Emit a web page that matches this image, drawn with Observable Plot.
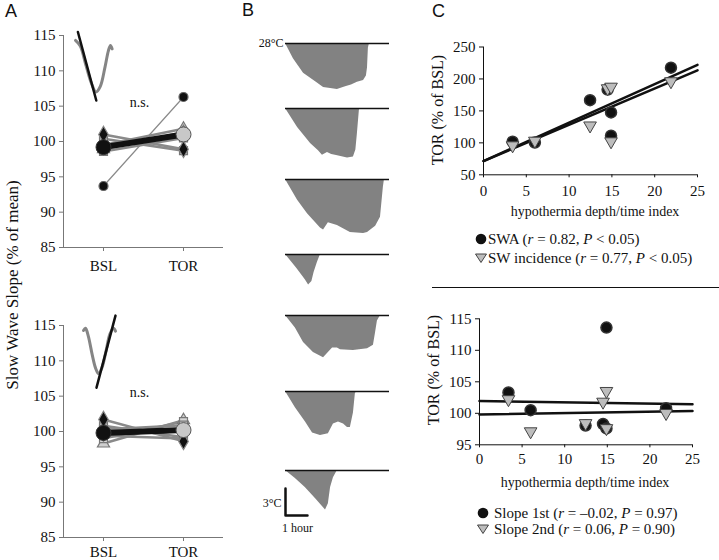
<!DOCTYPE html>
<html><head><meta charset="utf-8">
<script src="https://cdn.jsdelivr.net/npm/d3@7"></script>
<script src="https://cdn.jsdelivr.net/npm/@observablehq/plot@0.6"></script>
<style>
body{margin:0;background:#fff;}
#fig{position:relative;width:719px;height:560px;overflow:hidden;background:#fff;font-family:"Liberation Serif",serif;color:#111;}
#fig svg{overflow:visible;max-width:none;}
</style></head>
<body><div id="fig"></div>
<script>
// ---------------- DATA ----------------
// Panel A
const stages = ["BSL", "TOR"];
const stageX = [0, 1];
const yTicksA = [85, 90, 95, 100, 105, 110, 115];
// top: individual animals (BSL, TOR)
const a1Circle = [93.7, 106.3];
const a1Diamond = [101.0, 98.9];
const a1Triangle = [99.5, 101.8];
const a1Square1 = [98.6, 100.5];
const a1Square2 = [100.4, 98.7];
const a1Triangle2 = [98.9, 101.3];
const a1Mean = [99.2, 101.0];
// top inset waveform (gray) and slope (black)
const a1WaveX = [-0.35, -0.29, -0.22, -0.15, -0.094, -0.04, 0.02, 0.06, 0.087, 0.108];
const a1WaveY = [114.3, 113.5, 110.8, 108.2, 107.0, 107.8, 110.6, 112.8, 113.6, 113.1];
const a1SlopeX = [-0.32, -0.09];
const a1SlopeY = [115.5, 105.8];
// bottom
const a2Diamond = [101.7, 98.6];
const a2Triangle = [98.3, 101.6];
const a2Square1 = [99.0, 101.4];
const a2Square2 = [100.8, 99.2];
const a2Square3 = [100.3, 100.9];
const a2Triangle2 = [99.4, 99.0];
const a2Mean = [99.8, 100.2];
const a2WaveX = [-0.25, -0.225, -0.19, -0.14, -0.1, -0.0625, -0.02, 0.03, 0.08, 0.125, 0.15];
const a2WaveY = [114.3, 114.6, 113.5, 110.8, 109.0, 108.2, 109.0, 111.3, 113.8, 114.6, 114.2];
const a2SlopeX = [-0.0875, 0.15];
const a2SlopeY = [106.2, 116.4];
const nsLabel = "n.s.";
const nsX = 0.45;
const nsY = 105.5;

// Panel B: hypothermia bouts (time in hours, depth below 28 °C in °C)
const traceTimes = [
  [0, 0.36, 0.82, 1.45, 1.73, 2.05, 2.36, 2.73, 3.0, 3.27, 3.55, 3.68, 3.73, 3.77, 3.82],
  [0, 0.55, 1.14, 1.5, 1.68, 1.91, 2.1, 2.27, 2.82, 3.09, 3.2, 3.27, 3.36, 3.4],
  [0, 0.55, 1.0, 1.59, 1.73, 1.95, 2.36, 2.95, 3.55, 3.73, 4.1, 4.32, 4.45, 4.5],
  [0, 0.5, 0.9, 1.05, 1.2, 1.3, 1.45, 1.59],
  [0, 0.45, 0.82, 1.27, 1.73, 1.95, 2.14, 2.36, 2.5, 3.09, 3.73, 4.0, 4.09, 4.18, 4.32],
  [0, 0.45, 0.91, 1.23, 1.59, 1.95, 2.18, 2.41, 2.64, 2.82, 2.95, 3.09, 3.18, 3.27],
  [0, 0.45, 0.9, 1.36, 1.82, 1.95, 2.05, 2.18, 2.36]
];
const traceDepths = [
  [0, -1.7, -3.3, -4.4, -4.9, -5.0, -5.1, -4.8, -4.6, -4.3, -4.1, -3.6, -2.7, -0.5, 0],
  [0, -2.1, -3.9, -4.7, -5.2, -4.9, -5.1, -5.2, -5.5, -5.4, -4.6, -2.8, -0.2, 0],
  [0, -2.3, -3.8, -5.4, -5.6, -4.8, -5.1, -5.9, -6.0, -5.9, -5.2, -4.2, -0.9, 0],
  [0, -1.5, -2.8, -3.4, -3.0, -2.0, -0.9, 0],
  [0, -1.4, -3.0, -4.1, -4.7, -4.1, -3.6, -3.6, -3.8, -3.9, -3.7, -3.3, -2.0, -0.6, 0],
  [0, -1.8, -3.4, -4.6, -4.9, -4.7, -3.6, -3.4, -3.6, -4.0, -4.0, -2.4, -0.2, 0],
  [0, -0.9, -1.9, -3.1, -4.4, -3.7, -1.9, -0.8, 0]
];
const traceTops = [38, 103, 174, 249, 310, 386, 465];
const refTempLabel = "28°C";
const scaleBarT = [0, 0, 1];
const scaleBarD = [-2, -5, -5];
const scaleTempLabel = "3°C";
const scaleTimeLabel = "1 hour";

// Panel C
const indexX = [3.4, 6.0, 12.45, 14.5, 14.9, 14.9, 21.9];
const swa = [101.9, 100.5, 166.8, 183.4, 147.6, 111.3, 217.7];
const swIncidence = [94.7, 102, 125.8, 184.0, 186.5, 101, 195];
const fitX = [0, 25];
const fitSWA = [71.5, 222];
const fitSWI = [71.5, 213.5];
const slope1st = [103.3, 100.5, 98.05, 98.3, 113.6, 97.6, 100.8];
const slope2nd = [102.1, 97.0, 98.3, 101.7, 103.4, 97.5, 99.9];
const fitSlope1 = [99.8, 100.35];
const fitSlope2 = [101.95, 101.45];
const xTicksC = [0, 5, 10, 15, 20, 25];
const yTicksCTop = [50, 100, 150, 200, 250];
const yTicksCBot = [95, 100, 105, 110, 115];

// ---------------- HELPERS ----------------
const fig = document.getElementById("fig");
const SERIF = '"Liberation Serif", "Times New Roman", serif';
const SANS = '"Liberation Sans", Arial, sans-serif';
function put(node, left, top, w, h) {
  const d = document.createElement("div");
  d.style.cssText = `position:absolute;left:${left}px;top:${top}px;width:${w}px;height:${h}px;`;
  d.appendChild(node); fig.appendChild(d); return d;
}
function label(html, x, y, size, opts = {}) {
  const d = document.createElement("div");
  d.innerHTML = html;
  const tx = opts.anchor === "start" ? "0" : "-50%";
  d.style.cssText = `position:absolute;left:${x}px;top:${y}px;font-size:${size}px;white-space:nowrap;line-height:1;` +
    `transform:translate(${tx},-50%)${opts.rotate ? " rotate(-90deg)" : ""};font-family:${opts.font || SERIF};color:#111;`;
  fig.appendChild(d); return d;
}
const triDown = {
  draw(ctx, size) {
    const r = Math.sqrt(size / Math.PI);
    const w = r * 1.15;
    ctx.moveTo(-w, -r * 0.8); ctx.lineTo(w, -r * 0.8); ctx.lineTo(0, r * 1.2); ctx.closePath();
  }
};
const zip = (xs, ys) => xs.map((x, i) => ({x, y: ys[i]}));
const style = {fontFamily: SERIF, fontSize: "15px", background: "transparent", color: "#111", overflow: "visible"};

// ---------------- PANEL A ----------------
function panelA(indiv, mean, waveX, waveY, slopeX, slopeY, xpad) {
  const marks = [
    Plot.ruleY([85], {stroke: "#777"}),
    Plot.ruleX([-0.5], {stroke: "#777"}),
    Plot.axisY({ticks: yTicksA, tickSize: 4, tickPadding: 4, label: null, stroke: "#777", fill: "#111"}),
    Plot.axisX({ticks: stageX, tickFormat: i => stages[i], tickSize: 4, tickPadding: xpad, label: null, stroke: "#777", fill: "#111"}),
    Plot.line(zip(waveX, waveY), {x: "x", y: "y", curve: "catmull-rom", stroke: "#858585", strokeWidth: 3}),
    Plot.line(zip(slopeX, slopeY), {x: "x", y: "y", stroke: "#111", strokeWidth: 2.5}),
    Plot.text([nsLabel], {x: nsX, y: nsY, text: d => d, fontSize: 14, fill: "#111"})
  ];
  for (const s of indiv) {
    marks.push(Plot.line(zip(stageX, s.v), {x: "x", y: "y", stroke: "#8a8a8a", strokeWidth: s.w}));
  }
  marks.push(Plot.line(zip(stageX, mean), {x: "x", y: "y", stroke: "#111", strokeWidth: 6}));
  for (const s of indiv) {
    marks.push(Plot.dot(zip(stageX, s.v), {x: "x", y: "y", symbol: s.sym, r: s.r, fill: s.fill, stroke: s.stroke, strokeWidth: 1.2}));
  }
  marks.push(Plot.dot(zip(stageX, mean), {x: "x", y: "y", r: 7.5, fill: (d, i) => i === 0 ? "#111" : "#c8c8c8", stroke: (d, i) => i === 0 ? "#333" : "#555", strokeWidth: 1}));
  return Plot.plot({
    width: 240, height: 280, marginLeft: 63, marginRight: 17, marginTop: 35, marginBottom: 33,
    x: {domain: [-0.5, 1.5]}, y: {domain: [85, 115]}, style, marks
  });
}
const sq = {sym: "square", r: 4.5, fill: "#d6d6d6", stroke: "#777", w: 2.5};
const tri = {sym: "triangle", r: 4.5, fill: "#cfcfcf", stroke: "#777", w: 2.5};
const dia = {sym: "diamond", r: 5, fill: "#111", stroke: "#888", w: 2.5};
const topIndiv = [
  {v: a1Circle, sym: "circle", r: 4.5, fill: "#111", stroke: "#666", w: 1.2},
  {v: a1Triangle, ...tri}, {v: a1Square1, ...sq}, {v: a1Square2, ...sq}, {v: a1Triangle2, ...tri},
  {v: a1Diamond, ...dia}
];
const botIndiv = [
  {v: a2Triangle, ...tri}, {v: a2Square1, ...sq}, {v: a2Square2, ...sq}, {v: a2Square3, ...sq},
  {v: a2Triangle2, ...dia, r: 3.5}, {v: a2Diamond, ...dia}
];
put(panelA(topIndiv, a1Mean, a1WaveX, a1WaveY, a1SlopeX, a1SlopeY, 9), 0, 0, 240, 280);
put(panelA(botIndiv, a2Mean, a2WaveX, a2WaveY, a2SlopeX, a2SlopeY, 5), 0, 290, 240, 270);
label("Slow Wave Slope (% of mean)", 12, 285, 17, {rotate: true});
label("A", 5, 11, 18, {anchor: "start", font: SANS});

// ---------------- PANEL B ----------------
traceTimes.forEach((ts, k) => {
  const data = zip(ts, traceDepths[k]);
  const marks = [
    Plot.areaY(data, {x: "x", y: "y", fill: "#828282"}),
    Plot.ruleY([0], {stroke: "#111", strokeWidth: 1.5})
  ];
  if (k === 0) {
    marks.push(Plot.text([refTempLabel], {x: 0, y: 0, text: d => d, textAnchor: "end", dx: -2, fontSize: 12, fill: "#111"}));
  }
  if (k === traceTimes.length - 1) {
    marks.push(Plot.line(zip(scaleBarT, scaleBarD), {x: "x", y: "y", stroke: "#111", strokeWidth: 2.5}));
    marks.push(Plot.text([scaleTempLabel], {x: 0, y: -3.65, text: d => d, textAnchor: "end", dx: -4, fontSize: 12, fill: "#111"}));
    marks.push(Plot.text([scaleTimeLabel], {x: 0.55, y: -6.4, text: d => d, fontSize: 12, fill: "#111"}));
  }
  const p = Plot.plot({
    width: 150, height: 70, marginLeft: 35, marginRight: 11, marginTop: 5, marginBottom: 2,
    x: {domain: [0, 4.73], axis: null}, y: {domain: [-7, 0], axis: null}, style, marks
  });
  put(p, 250, traceTops[k], 150, 70);
});
label("B", 242, 10, 18, {anchor: "start", font: SANS});

// ---------------- PANEL C ----------------
function panelC(opts) {
  return Plot.plot({
    width: 319, height: opts.height, marginLeft: opts.ml, marginRight: opts.mr, marginTop: opts.mt, marginBottom: opts.mb,
    x: {domain: [0, 25]}, y: {domain: opts.yDomain}, style,
    marks: [
      Plot.ruleY([opts.yDomain[0]], {stroke: "#111"}),
      Plot.ruleX([0], {stroke: "#111"}),
      Plot.axisX({ticks: xTicksC, tickSize: 3, tickPadding: opts.xpad, label: null, stroke: "#111", fill: "#111"}),
      Plot.axisY({ticks: opts.yTicks, tickSize: 4, tickPadding: 4, label: null, stroke: "#111", fill: "#111"}),
      Plot.line(zip(fitX, opts.fit1), {x: "x", y: "y", stroke: "#111", strokeWidth: 2.5}),
      Plot.line(zip(fitX, opts.fit2), {x: "x", y: "y", stroke: "#111", strokeWidth: 2.5}),
      Plot.dot(zip(indexX, opts.s1), {x: "x", y: "y", r: 5.5, fill: "#111", stroke: "#333"}),
      Plot.dot(zip(indexX, opts.s2), {x: "x", y: "y", r: 5.5, symbol: triDown, fill: "#bdbdbd", stroke: "#444", strokeWidth: 1})
    ]
  });
}
put(panelC({height: 225, ml: 83, mr: 22, mt: 46.5, mb: 50.7, yDomain: [50, 250], yTicks: yTicksCTop,
  fit1: fitSWA, fit2: fitSWI, s1: swa, s2: swIncidence, xpad: 8}), 400, 0, 319, 225);
put(panelC({height: 185, ml: 79, mr: 27, mt: 28.3, mb: 30.7, yDomain: [95, 115], yTicks: yTicksCBot,
  fit1: fitSlope1, fit2: fitSlope2, s1: slope1st, s2: slope2nd, xpad: 6}), 400, 290, 319, 185);

label("TOR (% of BSL)", 438, 110, 16, {rotate: true});
label("hypothermia depth/time index", 595, 212, 14);
label("TOR (% of BSL)", 434, 370, 16, {rotate: true});
label("hypothermia depth/time index", 585, 483, 14);
label("C", 432, 11, 18, {anchor: "start", font: SANS});

// separator
const sep = document.createElement("div");
sep.style.cssText = "position:absolute;left:432px;top:287px;width:287px;height:0;border-top:1.2px solid #111;";
fig.appendChild(sep);

// legends
function legendMarker(kind, cx, cy) {
  const svg = d3.create("svg").attr("width", 14).attr("height", 14)
    .style("position", "absolute").style("left", (cx - 7) + "px").style("top", (cy - 7) + "px");
  if (kind === "circle") svg.append("circle").attr("cx", 7).attr("cy", 7).attr("r", 5.3).attr("fill", "#111");
  else svg.append("path").attr("d", "M1.5,3 L12.5,3 L7,11.5 Z").attr("fill", "#bdbdbd").attr("stroke", "#444");
  fig.appendChild(svg.node());
}
legendMarker("circle", 481, 239);
label("SWA (<i>r</i> = 0.82, <i>P</i> &lt; 0.05)", 488, 239, 15, {anchor: "start"});
legendMarker("tri", 481, 258);
label("SW incidence (<i>r</i> = 0.77, <i>P</i> &lt; 0.05)", 488, 258, 15, {anchor: "start"});
legendMarker("circle", 483, 513);
label("Slope 1st (<i>r</i> = –0.02, <i>P</i> = 0.97)", 494, 513, 15, {anchor: "start"});
legendMarker("tri", 483, 529);
label("Slope 2nd (<i>r</i> = 0.06, <i>P</i> = 0.90)", 494, 529, 15, {anchor: "start"});
</script>
</body></html>
